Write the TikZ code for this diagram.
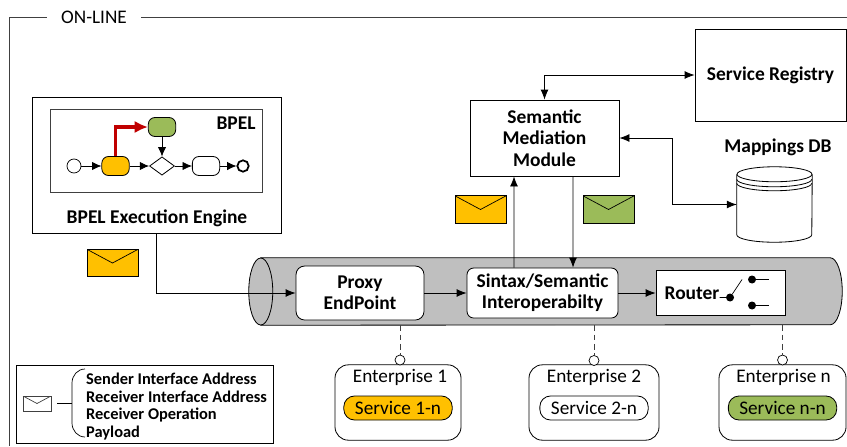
\documentclass[tikz,border=0pt]{standalone}
\usepackage{fontspec}
\setmainfont{Carlito}
\usetikzlibrary{shapes,arrows.meta,positioning}
\definecolor{msgyellow}{HTML}{FFC000}
\definecolor{msggreen}{HTML}{9BBB59}
\definecolor{tubegray}{HTML}{BFBFBF}
\definecolor{edgegray}{HTML}{404040}
\tikzset{
  every node/.style={inner sep=0pt},
  flow/.style={draw=black,line width=.7pt},
  boldtext/.style={font=\fontsize{16.6}{18.2}\selectfont\bfseries},
  plaintext/.style={font=\fontsize{16.4}{18}\selectfont},
  box/.style={draw=black,fill=white,line width=.7pt,align=center,boldtext},
  stepbox/.style={box,rounded corners=2.6mm},
  task/.style={draw=black,line width=.7pt,rounded corners=2mm,minimum width=.82cm,minimum height=.57cm},
  pill/.style={draw=black,line width=.7pt,rounded corners=3.2mm,minimum width=3.25cm,minimum height=.72cm,plaintext},
  enterprise/.style={draw=black,line width=.7pt,rounded corners=4mm,minimum height=2.26cm},
  socket/.style={draw=black,fill=white,circle,line width=.6pt,minimum size=.3cm},
  envelope/.style={draw=black,line width=.7pt,minimum width=1.53cm,minimum height=.82cm,
    path picture={\draw[line width=.6pt] (path picture bounding box.north west) -- (path picture bounding box.center) -- (path picture bounding box.north east);}},
  tiny/.style={-{Latex[length=2.8mm,width=2.5mm]},line width=.6pt},
  >={Latex[length=3mm,width=2.4mm]}
}
\begin{document}
\begin{tikzpicture}[x=.03cm,y=-.03cm,on grid]
   \useasboundingbox (0,0) rectangle (847,446);
   % frame
   \node[inner xsep=.42cm,plaintext] (online) at (94,17) {ON-LINE};
   \coordinate (framefoot) at (9,446);
   \coordinate (frameend) at (847,17);
   \draw[edgegray,line width=.8pt] (online.west) -| (framefoot);
   \draw[edgegray,line width=.8pt] (online.east) -- (frameend);

   % BPEL engine
   \node[box,minimum width=7.47cm,minimum height=4.08cm] (engine) at (156.5,165) {};
   \node[draw=edgegray,line width=.8pt,minimum width=6.36cm,minimum height=2.49cm] (process) [above=.435cm of engine] {};
   \node[boldtext] (bpel) at (236,123) {BPEL};
   \node[boldtext] (enginetext) at (157,218) {BPEL Execution Engine};
   \node[draw,circle,line width=.6pt,minimum size=.42cm] (start) at (74,166) {};
   \node[task,fill=msgyellow] (taska) [right=1.245cm of start] {};
   \node[draw,diamond,line width=.7pt,minimum width=.75cm,minimum height=.55cm] (gate) [right=1.395cm of taska] {};
   \node[task] (taskb) [right=1.32cm of gate] {};
   \node[draw,circle,line width=1.5pt,minimum size=.34cm] (stop) [right=1.11cm of taskb] {};
   \node[task,fill=msggreen] (taskc) [above=1.17cm of gate] {};
   \draw[tiny] (start) -- (taska);
   \draw[tiny] (taska) -- (gate);
   \draw[tiny] (gate) -- (taskb);
   \draw[tiny] (taskb) -- (stop);
   \draw[tiny] (taskc) -- (gate);
   \draw[-{Latex[length=4mm,width=3.7mm]},color={rgb,255:red,192;green,0;blue,0},line width=3pt] (taska.north) |- (taskc.west);

   % bus
   \node[minimum width=17.07cm,minimum height=2.01cm] (tube) at (545.5,291.5) {};
   \draw[fill=tubegray,line width=.7pt] (tube.north west) -- (tube.north east) arc (90:-90:.36cm and 1.005cm) -- (tube.south west) -- cycle;
   \draw[fill=tubegray,line width=.7pt] (tube.west) ellipse (.36cm and 1.005cm);
   \node[stepbox,minimum width=3.84cm,minimum height=1.62cm] (proxy) at (360,293) {Proxy\\EndPoint};
   \node[stepbox,rounded corners=2mm,minimum width=4.53cm,minimum height=1.5cm] (sintax) [right=5.475cm of proxy] {Sintax/Semantic\\Interoperabilty};
   \node[box,minimum width=3.87cm,minimum height=1.35cm] (router) [right=5.34cm of sintax] {};
   \node[boldtext] (routertext) at (692,293) {Router};
   \node[circle,fill=black,minimum size=.24cm] (hub) [below right=.135cm and .285cm of router] {};
   \node[circle,fill=black,minimum size=.24cm] (portup) [above right=.54cm and .66cm of hub] {};
   \node[circle,fill=black,minimum size=.24cm] (portdown) [below right=.24cm and .66cm of hub] {};
   \coordinate[above right=.54cm and .36cm of hub] (throw);
   \coordinate[right=.51cm of portup] (portupend);
   \coordinate[right=.51cm of portdown] (portdownend);
   \draw[line width=.6pt] (routertext.east |- hub) -- (hub) -- (throw);
   \draw[line width=.6pt] (portup) -- (portupend);
   \draw[line width=.6pt] (portdown) -- (portdownend);
   \draw[flow,->] (engine.south) |- (proxy.west);
   \draw[flow,->] (proxy) -- (sintax);
   \draw[flow,->] (sintax) -- (router);

   % mediation
   \node[box,minimum width=4.47cm,minimum height=2.28cm] (semantic) at (544.5,138) {Semantic\\Mediation\\Module};
   \node[box,minimum width=4.53cm,minimum height=2.76cm] (registry) at (770.5,75) {Service Registry};
   \node[boldtext] (dbtext) at (778,147) {Mappings DB};
   \node[minimum width=2.25cm,minimum height=2.25cm] (db) at (774.5,204.5) {};
   \draw[line width=.7pt] ([yshift=-.225cm]db.north west) -- ([yshift=.225cm]db.south west) arc (180:360:1.125cm and .225cm) -- ([yshift=-.225cm]db.north east);
   \draw[line width=.7pt] ([yshift=-.225cm]db.north) ellipse (1.125cm and .225cm);
   \draw[line width=.7pt] ([yshift=-.375cm]db.north west) arc (180:360:1.125cm and .225cm);
   \draw[line width=.7pt] ([yshift=-.495cm]db.north west) arc (180:360:1.125cm and .225cm);
   \coordinate (dbelbow) at (672,170);
   \draw[flow,<->] (registry.west) -| (semantic.north);
   \draw[flow,<->] (semantic.east) -| (dbelbow) |- (db.west);
   \draw[flow,->] ([xshift=-.855cm]sintax.north) -- ([xshift=-.915cm]semantic.south);
   \draw[flow,<-] ([xshift=.915cm]sintax.north) -- ([xshift=.855cm]semantic.south);

   % messages
   \node[envelope,fill=msgyellow] (msgengine) at (112.5,263) {};
   \node[envelope,fill=msgyellow] (msgup) at (480.5,209.5) {};
   \node[envelope,fill=msggreen] (msgdown) at (608.5,209.5) {};

   % enterprises
   \node[enterprise,minimum width=3.78cm] (ent1) at (398,402.5) {};
   \node[enterprise,minimum width=3.9cm] (ent2) [right=5.88cm of ent1] {};
   \node[enterprise,minimum width=3.81cm] (entn) [right=5.655cm of ent2] {};
   \node[pill,fill=msgyellow] (svc1) [below=.165cm of ent1] {Service 1-n};
   \node[pill] (svc2) [below=.165cm of ent2] {Service 2-n};
   \node[pill,fill=msggreen] (svcn) [below=.165cm of entn] {Service n-n};
   \node[plaintext] (title1) [above right=.93cm and .06cm of svc1] {Enterprise 1};
   \node[plaintext] (title2) [above=.93cm of svc2] {Enterprise 2};
   \node[plaintext] (titlen) [above right=.93cm and .03cm of svcn] {Enterprise n};
   \node[socket] (socket1) [above right=1.275cm and .06cm of ent1] {};
   \node[socket] (socket2) [above=1.26cm of ent2] {};
   \node[socket] (socketn) [above=1.275cm of entn] {};
   \draw[edgegray,line width=.8pt,dash pattern=on 5pt off 3pt] (tube.south -| socket1) -- (socket1);
   \draw[edgegray,line width=.8pt,dash pattern=on 5pt off 3pt] (tube.south -| socket2) -- (socket2);
   \draw[edgegray,line width=.8pt,dash pattern=on 5pt off 3pt] (tube.south -| socketn) -- (socketn);

   % legend
   \node[draw=black,line width=.8pt,minimum width=7.71cm,minimum height=2.34cm] (legend) at (144.5,404) {};
   \node[envelope,draw=edgegray,minimum width=.84cm,minimum height=.45cm] (msgkey) at (37,403.5) {};
   \node[anchor=west,align=left,font=\fontsize{14}{15}\selectfont\bfseries] (fields) at (86,406.5) {Sender Interface Address\\Receiver Interface Address\\Receiver Operation\\Payload};
   \coordinate (bracetop) at (85,369);
   \coordinate (bracebot) at (85,437);
   \coordinate (braceup) at (72,383);
   \coordinate (bracelow) at (72,423);
   \coordinate (bracemid) at (72,403.5);
   \coordinate (keytail) at (57,403.5);
   \draw[line width=.6pt] (bracetop) to[out=180,in=90] (braceup) -- (bracelow) to[out=270,in=180] (bracebot);
   \draw[line width=.6pt] (keytail) -- (bracemid);
\end{tikzpicture}
\end{document}
